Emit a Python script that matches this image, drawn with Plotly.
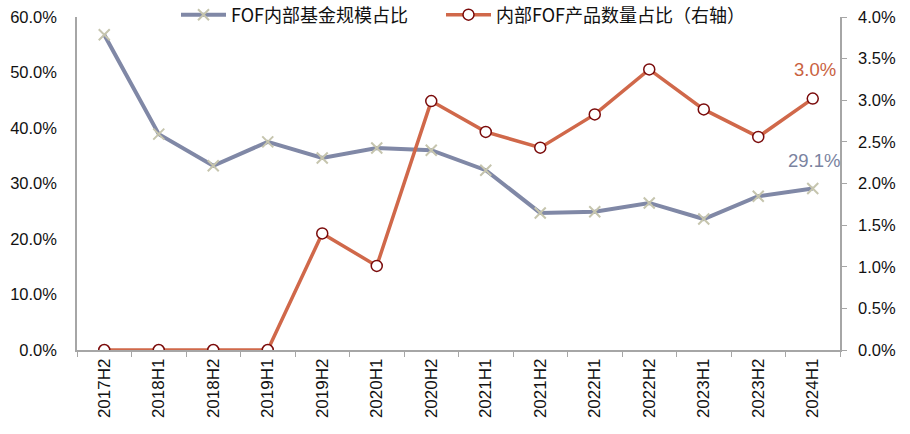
import plotly.graph_objects as go

categories = ["2017H2", "2018H1", "2018H2", "2019H1", "2019H2", "2020H1", "2020H2",
              "2021H1", "2021H2", "2022H1", "2022H2", "2023H1", "2023H2", "2024H1"]
fof_scale_share = [56.8, 38.9, 33.2, 37.5, 34.6, 36.4, 36.0, 32.4, 24.7, 24.9, 26.5, 23.6, 27.7, 29.1]
fof_count_share = [0.0, 0.0, 0.0, 0.0, 1.40, 1.01, 2.99, 2.62, 2.43, 2.83, 3.37, 2.89, 2.56, 3.02]
left_ticks = [0, 10, 20, 30, 40, 50, 60]
right_ticks = [0, 0.5, 1.0, 1.5, 2.0, 2.5, 3.0, 3.5, 4.0]

GRAY = "#8088A6"
ORANGE = "#D0684A"
CJK = "Noto Sans CJK SC"
LAT = "Liberation Sans"
W, H = 910, 434

fig = go.Figure()
fig.add_trace(go.Scatter(
    x=categories, y=fof_scale_share, name="FOF内部基金规模占比",
    mode="lines+markers",
    line=dict(color=GRAY, width=4),
    marker=dict(symbol="x-thin", size=11, line=dict(color="#C6C5AE", width=2), color="#C6C5AE"),
    yaxis="y", legend="legend",
))
fig.add_trace(go.Scatter(
    x=categories, y=fof_count_share, name="内部FOF产品数量占比（右轴）",
    mode="lines+markers",
    line=dict(color=ORANGE, width=3.5),
    marker=dict(symbol="circle", size=11, color="white", line=dict(color="#7A0A0A", width=1.5)),
    yaxis="y2", legend="legend2",
))

fig.add_annotation(x=categories[-1], y=fof_count_share[-1], yref="y2", xref="x",
                   text=f"{fof_count_share[-1]:.1f}%", showarrow=False, yshift=29, xshift=2,
                   font=dict(color="#C9623F", size=18.5, family=LAT))
fig.add_annotation(x=categories[-1], y=fof_scale_share[-1], yref="y", xref="x",
                   text=f"{fof_scale_share[-1]:.1f}%", showarrow=False, yshift=28, xshift=1,
                   font=dict(color="#7A83A0", size=18.5, family=LAT))

leg_common = dict(orientation="h", yref="container", y=1 - 15 / H, yanchor="middle",
                  xref="container", xanchor="left", itemwidth=45,
                  font=dict(size=18, family=CJK, color="#111111"), bgcolor="rgba(0,0,0,0)")

fig.update_layout(
    width=W, height=H,
    margin=dict(l=77, r=70, t=17, b=84, autoexpand=False),
    paper_bgcolor="white", plot_bgcolor="white",
    font=dict(family=CJK, size=16, color="#222222"),
    showlegend=True,
    legend=dict(x=176 / W, **leg_common),
    legend2=dict(x=441 / W, **leg_common),
    xaxis=dict(type="category", tickangle=-90, showgrid=False, showline=True,
               linecolor="#A6A6A6", linewidth=1.5, ticks="outside", tickson="boundaries",
               ticklen=5, tickcolor="#A6A6A6",
               tickfont=dict(size=17, family=LAT, color="#111111"),
               range=[-0.5, len(categories) - 0.5], automargin=False),
    yaxis=dict(range=[0, 60], tickvals=left_ticks, ticktext=[f"{v:.1f}%" for v in left_ticks],
               showgrid=False, showline=True, linecolor="#A6A6A6", linewidth=1.5,
               ticks="", ticklabelstandoff=15, zeroline=False,
               tickfont=dict(size=16.5, family=LAT, color="#111111"), automargin=False),
    yaxis2=dict(range=[0, 4], tickvals=right_ticks, ticktext=[f"{v:.1f}%" for v in right_ticks],
                overlaying="y", side="right", showgrid=False, showline=True,
                linecolor="#A6A6A6", linewidth=1.5, ticks="outside", ticklen=5,
                tickcolor="#A6A6A6", zeroline=False, ticklabelstandoff=8,
                tickfont=dict(size=16.5, family=LAT, color="#111111"), automargin=False),
)

fig.write_html("out.html", config={"displayModeBar": False},
               post_script="document.body.style.margin='0';")
